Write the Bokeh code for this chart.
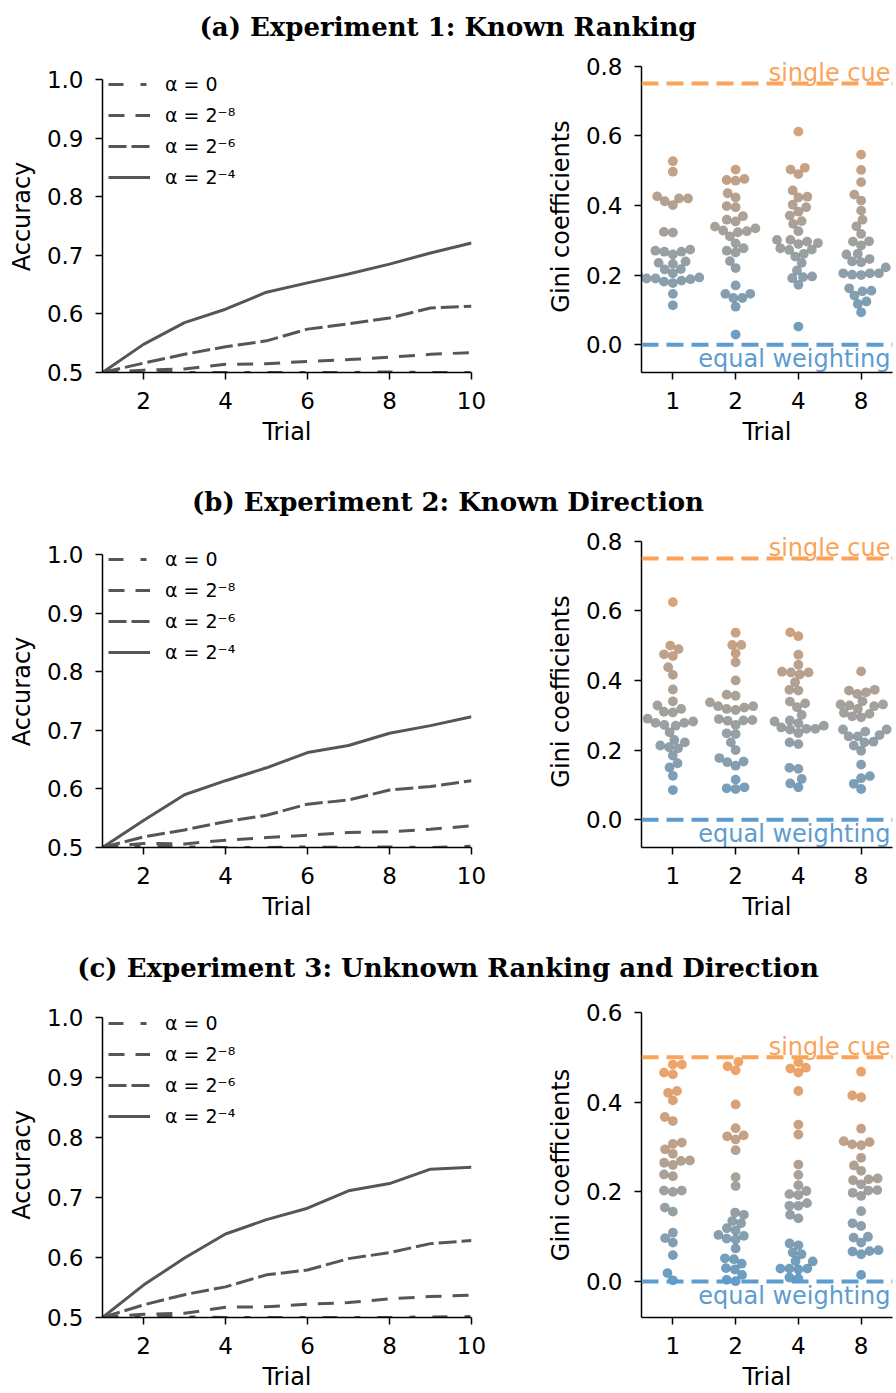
import math
from bokeh.plotting import figure
from bokeh.models import (Div, Legend, LegendItem, Span, FixedTicker,
                          PrintfTickFormatter, Range1d, ColumnDataSource)
from bokeh.layouts import column, row
from bokeh.embed import file_html
from bokeh.resources import INLINE
from bokeh.core.properties import value

# ---------------- data ----------------
titles = ["(a) Experiment 1: Known Ranking",
          "(b) Experiment 2: Known Direction",
          "(c) Experiment 3: Unknown Ranking and Direction"]

trials = [1, 2, 3, 4, 5, 6, 7, 8, 9, 10]
alpha_labels = ["\u03b1 = 0", "\u03b1 = 2\u207b\u2078", "\u03b1 = 2\u207b\u2076", "\u03b1 = 2\u207b\u2074"]

exp1_acc_a0 = [0.5, 0.503, 0.500, 0.500, 0.500, 0.500, 0.500, 0.501, 0.500, 0.500]
exp1_acc_a8 = [0.5, 0.504, 0.506, 0.514, 0.515, 0.519, 0.522, 0.526, 0.531, 0.534]
exp1_acc_a6 = [0.5, 0.516, 0.531, 0.544, 0.554, 0.574, 0.583, 0.593, 0.610, 0.613]
exp1_acc_a4 = [0.5, 0.548, 0.585, 0.608, 0.637, 0.653, 0.668, 0.685, 0.704, 0.721]

exp2_acc_a0 = [0.5, 0.503, 0.501, 0.500, 0.500, 0.501, 0.500, 0.501, 0.500, 0.502]
exp2_acc_a8 = [0.5, 0.507, 0.506, 0.5125, 0.517, 0.521, 0.5256, 0.527, 0.531, 0.537]
exp2_acc_a6 = [0.5, 0.518, 0.530, 0.544, 0.555, 0.574, 0.581, 0.598, 0.604, 0.614]
exp2_acc_a4 = [0.5, 0.546, 0.590, 0.614, 0.636, 0.662, 0.674, 0.695, 0.708, 0.723]

exp3_acc_a0 = [0.5, 0.503, 0.501, 0.500, 0.500, 0.500, 0.500, 0.500, 0.501, 0.5015]
exp3_acc_a8 = [0.5, 0.5055, 0.507, 0.517, 0.518, 0.522, 0.525, 0.531, 0.535, 0.537]
exp3_acc_a6 = [0.5, 0.521, 0.538, 0.551, 0.571, 0.579, 0.598, 0.608, 0.623, 0.628]
exp3_acc_a4 = [0.5, 0.554, 0.599, 0.639, 0.663, 0.682, 0.711, 0.723, 0.747, 0.750]

gini_trials = ["1", "2", "4", "8"]

exp1_gini_t1 = [0.527, 0.497, 0.426, 0.420, 0.420, 0.412, 0.401, 0.324, 0.322, 0.273,
                0.270, 0.267, 0.267, 0.259, 0.239, 0.235, 0.232, 0.217, 0.216, 0.205,
                0.200, 0.193, 0.190, 0.190, 0.188, 0.184, 0.181, 0.177, 0.146, 0.113]
exp1_gini_t2 = [0.503, 0.476, 0.473, 0.471, 0.435, 0.423, 0.398, 0.395, 0.369, 0.359,
                0.354, 0.339, 0.334, 0.328, 0.326, 0.323, 0.311, 0.291, 0.277, 0.270,
                0.265, 0.240, 0.220, 0.170, 0.146, 0.146, 0.134, 0.134, 0.109, 0.029]
exp1_gini_t4 = [0.612, 0.508, 0.503, 0.490, 0.443, 0.425, 0.423, 0.402, 0.395, 0.382,
                0.371, 0.355, 0.347, 0.326, 0.301, 0.301, 0.296, 0.292, 0.289, 0.277,
                0.273, 0.272, 0.261, 0.253, 0.235, 0.213, 0.196, 0.194, 0.191, 0.172, 0.052]
exp1_gini_t8 = [0.546, 0.502, 0.467, 0.431, 0.414, 0.385, 0.359, 0.340, 0.318, 0.297,
                0.296, 0.285, 0.261, 0.259, 0.246, 0.239, 0.237, 0.222, 0.205, 0.205,
                0.205, 0.201, 0.200, 0.162, 0.155, 0.153, 0.141, 0.124, 0.117, 0.093]

exp2_gini_t1 = [0.625, 0.500, 0.490, 0.475, 0.470, 0.438, 0.416, 0.374, 0.340, 0.328,
                0.318, 0.310, 0.308, 0.290, 0.282, 0.278, 0.278, 0.272, 0.270, 0.251,
                0.229, 0.222, 0.213, 0.208, 0.205, 0.184, 0.162, 0.150, 0.126, 0.085]
exp2_gini_t2 = [0.537, 0.502, 0.502, 0.478, 0.452, 0.400, 0.359, 0.356, 0.337, 0.326,
                0.326, 0.322, 0.318, 0.315, 0.289, 0.286, 0.285, 0.284, 0.272, 0.248,
                0.246, 0.222, 0.200, 0.177, 0.167, 0.165, 0.155, 0.115, 0.093, 0.090, 0.088]
exp2_gini_t4 = [0.538, 0.527, 0.474, 0.445, 0.425, 0.423, 0.423, 0.417, 0.395, 0.373,
                0.371, 0.339, 0.334, 0.323, 0.301, 0.285, 0.282, 0.277, 0.270, 0.265,
                0.261, 0.261, 0.259, 0.249, 0.222, 0.217, 0.149, 0.146, 0.117, 0.104, 0.093]
exp2_gini_t8 = [0.426, 0.373, 0.371, 0.366, 0.361, 0.340, 0.331, 0.331, 0.328, 0.326,
                0.318, 0.307, 0.304, 0.297, 0.294, 0.259, 0.259, 0.253, 0.243, 0.239,
                0.239, 0.224, 0.222, 0.213, 0.198, 0.158, 0.125, 0.119, 0.103, 0.088]

exp3_gini_t1 = [0.484, 0.484, 0.466, 0.462, 0.425, 0.421, 0.404, 0.367, 0.358, 0.310,
                0.307, 0.295, 0.285, 0.270, 0.269, 0.265, 0.260, 0.239, 0.235, 0.203,
                0.203, 0.200, 0.165, 0.156, 0.109, 0.097, 0.087, 0.059, 0.019, 0.003]
exp3_gini_t2 = [0.490, 0.480, 0.471, 0.395, 0.342, 0.326, 0.324, 0.317, 0.293, 0.233,
                0.213, 0.154, 0.149, 0.135, 0.130, 0.119, 0.114, 0.104, 0.102, 0.096,
                0.094, 0.074, 0.052, 0.050, 0.040, 0.030, 0.027, 0.015, 0.004, 0.001]
exp3_gini_t4 = [0.489, 0.477, 0.475, 0.466, 0.425, 0.350, 0.328, 0.261, 0.238, 0.215,
                0.202, 0.195, 0.193, 0.175, 0.169, 0.169, 0.149, 0.141, 0.085, 0.081,
                0.065, 0.061, 0.046, 0.045, 0.029, 0.029, 0.029, 0.027, 0.009, 0.007]
exp3_gini_t8 = [0.468, 0.415, 0.411, 0.341, 0.313, 0.311, 0.306, 0.304, 0.276, 0.259,
                0.247, 0.230, 0.228, 0.226, 0.217, 0.204, 0.203, 0.198, 0.191, 0.157,
                0.130, 0.124, 0.100, 0.098, 0.087, 0.070, 0.068, 0.067, 0.061, 0.015]

single_cue_levels = [0.75, 0.75, 0.5]
equal_weight_level = 0.0
gini_top = [0.8, 0.8, 0.6]
gini_bottom = -0.08
acc_bottom, acc_top = 0.5, 1.0

# ---------------- styling / layout ----------------
LINE_COLOR = "#565656"
ORANGE = "#f9a45a"
BLUE = "#5d9cd0"
DOT_BLUE = (78, 140, 186)
DOT_ORANGE = (242, 148, 74)
FONT = "DejaVu Sans"
dashes = ["15 17 6 17", "16 11", "18 5", "solid"]

LEFT_W, RIGHT_W = 540, 356
TITLE_H = 50
TEXT_SHIFT = 5.7  # compensation for where the renderer puts the text baseline
rows_cfg = [
    dict(h=425, top=10, fh=312, rpad=5.7, lppu=586.0, leg=23.5),
    dict(h=416, top=10, fh=312, rpad=5.7, lppu=586.0, leg=24.0),
    dict(h=402, top=21, fh=306, rpad=0.0, lppu=602.6, leg=12.3),
]
acc_data = [
    [exp1_acc_a0, exp1_acc_a8, exp1_acc_a6, exp1_acc_a4],
    [exp2_acc_a0, exp2_acc_a8, exp2_acc_a6, exp2_acc_a4],
    [exp3_acc_a0, exp3_acc_a8, exp3_acc_a6, exp3_acc_a4],
]
gini_data = [
    [exp1_gini_t1, exp1_gini_t2, exp1_gini_t4, exp1_gini_t8],
    [exp2_gini_t1, exp2_gini_t2, exp2_gini_t4, exp2_gini_t8],
    [exp3_gini_t1, exp3_gini_t2, exp3_gini_t4, exp3_gini_t8],
]


def style_axes(p):
    for ax in list(p.xaxis) + list(p.yaxis):
        ax.axis_line_color = "black"
        ax.axis_line_width = 1.5
        ax.major_tick_line_color = "black"
        ax.major_tick_line_width = 1.5
        ax.major_tick_out = 7
        ax.major_tick_in = 0
        ax.minor_tick_out = 0
        ax.minor_tick_in = 0
        ax.major_label_text_font = FONT
        ax.major_label_text_font_size = "23px"
        ax.major_label_text_color = "black"
        ax.axis_label_text_font = FONT
        ax.axis_label_text_font_size = "24px"
        ax.axis_label_text_font_style = "normal"
        ax.axis_label_text_color = "black"
    p.xaxis.major_label_standoff = 12
    p.yaxis.major_label_standoff = 12
    p.xaxis.axis_label_standoff = 6
    p.yaxis.axis_label_standoff = 8
    p.xaxis.axis_label = "Trial"
    p.xgrid.visible = False
    p.ygrid.visible = False
    p.outline_line_color = None
    p.background_fill_color = "white"
    p.border_fill_color = "white"


def swarm_offsets(vals, ppu_y, d):
    order = sorted(range(len(vals)), key=lambda i: vals[i])
    placed = []
    xs = [0.0] * len(vals)
    for i in order:
        y = vals[i] * ppu_y
        neigh = [(px, py) for (px, py) in placed if abs(py - y) < d]
        cands = [0.0]
        for px, py in neigh:
            dx = math.sqrt(max(d * d - (py - y) ** 2, 0.0))
            cands += [px + dx, px - dx]
        cands.sort(key=lambda c: (abs(c), c))
        for c in cands:
            if all((c - px) ** 2 + (y - py) ** 2 >= d * d - 1e-6 for px, py in neigh):
                xs[i] = c
                break
        placed.append((xs[i], y))
    return xs


def lerp_color(t):
    t = min(max(t, 0.0), 1.0)
    r, g, b = (int(round(a + (c - a) * t)) for a, c in zip(DOT_BLUE, DOT_ORANGE))
    return "#%02x%02x%02x" % (r, g, b)


def make_left(k):
    cfg = rows_cfg[k]
    fh = cfg["fh"]
    mbb = cfg["h"] - cfg["top"] - fh
    ytop = acc_bottom + fh / cfg["lppu"]
    p = figure(width=LEFT_W, height=cfg["h"], x_range=Range1d(1, 10),
               y_range=Range1d(acc_bottom, ytop),
               output_backend="svg", toolbar_location=None,
               min_border_left=102, min_border_right=LEFT_W - 102 - 369,
               min_border_top=cfg["top"], min_border_bottom=mbb)
    items = []
    for lab, ys, dash in zip(alpha_labels, acc_data[k], dashes):
        r = p.line(trials, ys, line_color=LINE_COLOR, line_width=3, line_dash=dash)
        items.append(LegendItem(label=lab, renderers=[r]))
    p.xaxis.ticker = FixedTicker(ticks=[2, 4, 6, 8, 10])
    p.yaxis.ticker = FixedTicker(ticks=[0.5, 0.6, 0.7, 0.8, 0.9, 1.0])
    p.yaxis.formatter = PrintfTickFormatter(format="%.1f")
    p.yaxis.bounds = (acc_bottom, acc_top)
    p.yaxis.axis_label = "Accuracy"
    style_axes(p)
    leg_h = 4 * 24 + 3 * 7
    vy = fh - (cfg["leg"] - 12) - leg_h
    leg = Legend(items=items, location=(6, vy), padding=0, margin=0,
                 spacing=7, glyph_width=42, glyph_height=24, label_height=24,
                 label_standoff=15, label_text_font=FONT, label_text_font_size="19px",
                 label_text_color="black", border_line_color=None,
                 background_fill_alpha=0)
    p.add_layout(leg)
    return p


def make_right(k):
    cfg = rows_cfg[k]
    fh = cfg["fh"]
    mbb = cfg["h"] - cfg["top"] - fh
    top = gini_top[k]
    ppu_y = (fh - cfg["rpad"]) / (top - gini_bottom)
    ytop = top + cfg["rpad"] / ppu_y
    p = figure(width=RIGHT_W, height=cfg["h"], x_range=Range1d(-0.5, 3.5),
               y_range=Range1d(gini_bottom, ytop),
               output_backend="svg", toolbar_location=None,
               min_border_left=101, min_border_right=RIGHT_W - 101 - 251,
               min_border_top=cfg["top"], min_border_bottom=mbb)
    ppu_x = 251 / 4.0
    sc = single_cue_levels[k]
    p.add_layout(Span(location=sc, dimension="width", line_color=ORANGE,
                      line_width=4, line_dash="17 8"))
    p.add_layout(Span(location=equal_weight_level, dimension="width", line_color=BLUE,
                      line_width=4, line_dash="17 8"))
    for j, vals in enumerate(gini_data[k]):
        offs = swarm_offsets(vals, ppu_y, 9.0)
        xs = [j + o / ppu_x for o in offs]
        cols = [lerp_color(v / sc) for v in vals]
        p.scatter(xs, vals, size=9.8, fill_color=cols, line_color=None, fill_alpha=0.85)
    p.xaxis.ticker = FixedTicker(ticks=[0, 1, 2, 3])
    p.xaxis.major_label_overrides = {i: t for i, t in enumerate(gini_trials)}
    ticks = [round(0.2 * i, 1) for i in range(int(round(top / 0.2)) + 1)]
    p.yaxis.ticker = FixedTicker(ticks=ticks)
    p.yaxis.formatter = PrintfTickFormatter(format="%.1f")
    p.yaxis.bounds = (gini_bottom, top)
    p.yaxis.axis_label = "Gini coefficients"
    style_axes(p)
    xr = 3.5 - 2.0 / ppu_x
    src = ColumnDataSource(dict(
        x=[xr, xr],
        y=[sc + (5.0 + TEXT_SHIFT) / ppu_y,
           equal_weight_level - (20.3 - TEXT_SHIFT) / ppu_y],
        t=["single cue", "equal weighting"],
        c=[ORANGE, BLUE]))
    p.text(x="x", y="y", text="t", text_color="c", source=src, text_align="right",
           text_baseline="alphabetic", text_font=value(FONT), text_font_size="24px")
    return p


parts = []
for k in range(3):
    parts.append(Div(text=titles[k], width=LEFT_W + RIGHT_W, height=TITLE_H, margin=0,
                     styles={"font-family": "DejaVu Serif", "font-weight": "bold",
                             "font-size": "26px", "line-height": "55px",
                             "text-align": "center", "color": "black",
                             "white-space": "nowrap",
                             "width": "%dpx" % (LEFT_W + RIGHT_W)}))
    parts.append(row(make_left(k), make_right(k), spacing=0))

layout = column(*parts, spacing=0)
open("out.html", "w").write(file_html(layout, INLINE))
